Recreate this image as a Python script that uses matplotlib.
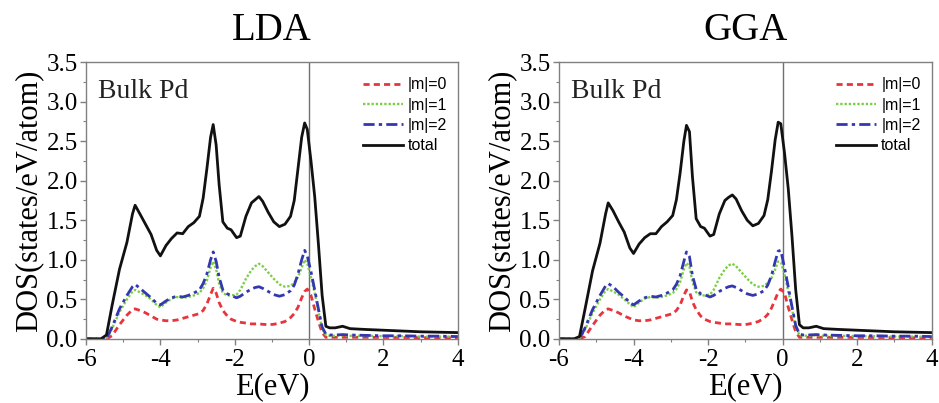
import matplotlib.pyplot as plt
from matplotlib.ticker import MultipleLocator

# energy grid (eV) shared by all curves
energy = [-6.0, -5.6, -5.45, -5.3, -5.1, -4.9, -4.75, -4.68, -4.55, -4.4,
          -4.25, -4.1, -4.0, -3.85, -3.7, -3.55, -3.4, -3.25, -3.1, -2.95,
          -2.85, -2.75, -2.65, -2.58, -2.5, -2.42, -2.32, -2.2, -2.1, -1.95,
          -1.85, -1.7, -1.55, -1.45, -1.35, -1.25, -1.1, -0.95, -0.8, -0.65,
          -0.5, -0.4, -0.3, -0.2, -0.12, -0.05, 0.05, 0.15, 0.25, 0.35,
          0.45, 0.55, 0.7, 0.9, 1.1, 1.5, 2.0, 2.5, 3.0, 3.5, 4.0]

# LDA
lda_total = [0.0, 0.0, 0.05, 0.42, 0.88, 1.22, 1.58, 1.69, 1.58, 1.45,
             1.32, 1.12, 1.05, 1.18, 1.27, 1.34, 1.33, 1.42, 1.47, 1.55,
             1.78, 2.15, 2.55, 2.71, 2.45, 1.95, 1.48, 1.40, 1.38, 1.28,
             1.30, 1.55, 1.72, 1.76, 1.80, 1.74, 1.60, 1.48, 1.42, 1.45,
             1.55, 1.75, 2.15, 2.55, 2.73, 2.65, 2.25, 1.80, 1.20, 0.55,
             0.16, 0.14, 0.14, 0.16, 0.13, 0.12, 0.11, 0.10, 0.09, 0.085, 0.08]
lda_m0 = [0.0, 0.0, 0.0, 0.04, 0.18, 0.30, 0.37, 0.38, 0.36, 0.33,
          0.29, 0.25, 0.24, 0.23, 0.23, 0.24, 0.26, 0.28, 0.30, 0.32,
          0.36, 0.44, 0.56, 0.64, 0.58, 0.46, 0.36, 0.29, 0.25, 0.22,
          0.21, 0.20, 0.19, 0.19, 0.19, 0.185, 0.18, 0.185, 0.20, 0.22,
          0.27, 0.32, 0.40, 0.52, 0.60, 0.63, 0.55, 0.38, 0.22, 0.08,
          0.02, 0.02, 0.02, 0.02, 0.02, 0.02, 0.018, 0.018, 0.016, 0.015, 0.015]
lda_m1 = [0.0, 0.0, 0.0, 0.13, 0.34, 0.50, 0.60, 0.62, 0.59, 0.55,
          0.50, 0.43, 0.40, 0.46, 0.51, 0.53, 0.52, 0.53, 0.55, 0.58,
          0.64, 0.74, 0.90, 0.98, 0.88, 0.70, 0.58, 0.55, 0.55, 0.56,
          0.62, 0.76, 0.87, 0.92, 0.95, 0.92, 0.84, 0.76, 0.69, 0.66,
          0.67, 0.71, 0.78, 0.90, 1.00, 0.95, 0.78, 0.58, 0.35, 0.13,
          0.05, 0.04, 0.04, 0.045, 0.04, 0.04, 0.035, 0.035, 0.03, 0.03, 0.03]
lda_m2 = [0.0, 0.0, 0.0, 0.15, 0.38, 0.55, 0.66, 0.69, 0.64, 0.58,
          0.52, 0.45, 0.43, 0.48, 0.52, 0.54, 0.53, 0.55, 0.58, 0.62,
          0.70, 0.82, 1.00, 1.10, 0.98, 0.78, 0.62, 0.57, 0.55, 0.52,
          0.54, 0.59, 0.63, 0.65, 0.66, 0.64, 0.60, 0.56, 0.54, 0.56,
          0.61, 0.68, 0.82, 1.00, 1.12, 1.05, 0.85, 0.62, 0.38, 0.15,
          0.06, 0.05, 0.05, 0.055, 0.05, 0.045, 0.04, 0.04, 0.035, 0.035, 0.03]

# GGA
gga_total = [0.0, 0.0, 0.03, 0.38, 0.86, 1.21, 1.58, 1.72, 1.62, 1.48,
             1.35, 1.15, 1.08, 1.20, 1.28, 1.33, 1.33, 1.42, 1.48, 1.56,
             1.76, 2.10, 2.50, 2.70, 2.62, 2.05, 1.52, 1.42, 1.40, 1.30,
             1.32, 1.58, 1.75, 1.79, 1.82, 1.77, 1.62, 1.50, 1.43, 1.46,
             1.56, 1.76, 2.12, 2.52, 2.74, 2.72, 2.35, 1.90, 1.30, 0.62,
             0.18, 0.14, 0.14, 0.16, 0.13, 0.12, 0.11, 0.10, 0.09, 0.085, 0.08]
gga_m0 = [0.0, 0.0, 0.0, 0.03, 0.17, 0.30, 0.37, 0.38, 0.36, 0.33,
          0.29, 0.26, 0.24, 0.23, 0.23, 0.24, 0.26, 0.28, 0.30, 0.32,
          0.36, 0.43, 0.55, 0.62, 0.60, 0.47, 0.37, 0.29, 0.25, 0.22,
          0.21, 0.20, 0.19, 0.19, 0.19, 0.185, 0.18, 0.185, 0.20, 0.22,
          0.26, 0.31, 0.39, 0.50, 0.59, 0.63, 0.58, 0.40, 0.24, 0.09,
          0.02, 0.02, 0.02, 0.02, 0.02, 0.02, 0.018, 0.018, 0.016, 0.015, 0.015]
gga_m1 = [0.0, 0.0, 0.0, 0.12, 0.33, 0.50, 0.61, 0.63, 0.60, 0.56,
          0.50, 0.44, 0.40, 0.46, 0.51, 0.53, 0.52, 0.53, 0.55, 0.58,
          0.63, 0.72, 0.88, 0.96, 0.92, 0.72, 0.59, 0.55, 0.55, 0.56,
          0.62, 0.77, 0.88, 0.93, 0.95, 0.92, 0.84, 0.76, 0.69, 0.66,
          0.67, 0.71, 0.77, 0.88, 0.98, 0.97, 0.82, 0.60, 0.38, 0.15,
          0.05, 0.04, 0.04, 0.045, 0.04, 0.04, 0.035, 0.035, 0.03, 0.03, 0.03]
gga_m2 = [0.0, 0.0, 0.0, 0.14, 0.37, 0.55, 0.67, 0.70, 0.66, 0.59,
          0.53, 0.46, 0.43, 0.48, 0.52, 0.54, 0.53, 0.55, 0.58, 0.62,
          0.69, 0.80, 0.98, 1.10, 1.04, 0.80, 0.63, 0.57, 0.56, 0.53,
          0.55, 0.60, 0.64, 0.66, 0.67, 0.65, 0.61, 0.57, 0.55, 0.57,
          0.61, 0.68, 0.80, 0.98, 1.11, 1.12, 0.90, 0.66, 0.41, 0.17,
          0.06, 0.05, 0.05, 0.055, 0.05, 0.045, 0.04, 0.04, 0.035, 0.035, 0.03]

x_ticks = [-6, -4, -2, 0, 2, 4]
y_ticks = [0.0, 0.5, 1.0, 1.5, 2.0, 2.5, 3.0, 3.5]

panels = [
    ('LDA', lda_m0, lda_m1, lda_m2, lda_total),
    ('GGA', gga_m0, gga_m1, gga_m2, gga_total),
]

serif = ['Liberation Serif', 'DejaVu Serif']
sans = ['Liberation Sans', 'DejaVu Sans']
plt.rcParams['font.family'] = serif
frame_color = '#808080'

fig = plt.figure(figsize=(9.39, 4.03), dpi=100)
ax_left = fig.add_axes([0.0916, 0.159, 0.396, 0.687])
ax_right = fig.add_axes([0.5953, 0.159, 0.397, 0.687])

for ax, (name, m0, m1, m2, total) in zip([ax_left, ax_right], panels):
    ax.axvline(0, color='#707070', lw=1.0, zorder=1)
    ax.plot(energy, m0, color='#e8343c', lw=2.0, ls=(0, (2.2, 1.5)), label='|m|=0')
    ax.plot(energy, m1, color='#7ccf45', lw=1.7, ls=(0, (1, 0.8)), label='|m|=1')
    ax.plot(energy, m2, color='#3438b0', lw=2.0, ls=(0, (4, 1.5, 1.2, 1.5)), label='|m|=2')
    ax.plot(energy, total, color='#111111', lw=2.0, label='total')

    ax.set_xlim(-6, 4)
    ax.set_ylim(0, 3.5)
    ax.set_xticks(x_ticks)
    ax.set_xticklabels([str(v) for v in x_ticks], fontfamily=serif)
    ax.set_yticks(y_ticks)
    ax.set_yticklabels(['%.1f' % v for v in y_ticks], fontfamily=serif)
    ax.xaxis.set_minor_locator(MultipleLocator(1))
    ax.yaxis.set_minor_locator(MultipleLocator(0.25))
    ax.tick_params(which='both', direction='out', color=frame_color, top=False, right=False)
    ax.tick_params(which='major', length=4, width=1, labelsize=18)
    ax.tick_params(axis='x', which='major', pad=3)
    ax.tick_params(axis='y', which='major', pad=2)
    ax.tick_params(which='minor', length=2.5, width=0.8)
    for sp in ax.spines.values():
        sp.set_color(frame_color)
        sp.set_linewidth(1.0)

    ax.set_xlabel('E(eV)', fontsize=22, labelpad=1)
    ax.set_ylabel('DOS(states/eV/atom)', fontsize=22, labelpad=2)
    ax.set_title(name, fontsize=28, pad=16)
    ax.text(0.032, 0.94, 'Bulk Pd', transform=ax.transAxes, fontsize=20,
            va='top', ha='left', color='#222222')

    ax.legend(loc='upper right', frameon=False, prop={'family': sans, 'size': 11.5},
              handlelength=2.5, handletextpad=0.3, labelspacing=0.33,
              borderaxespad=0.3, bbox_to_anchor=(1.0, 0.985))

fig.savefig('out.png', dpi=100)
